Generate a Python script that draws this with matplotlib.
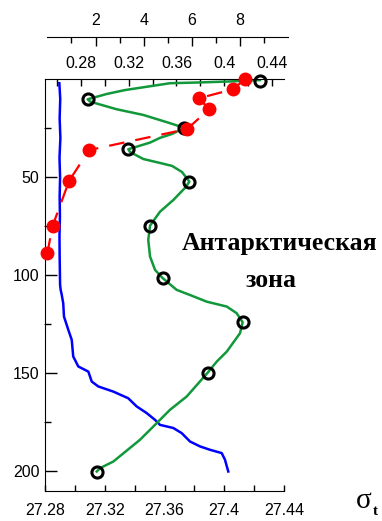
import matplotlib
matplotlib.use("Agg")
from matplotlib import pyplot as plt, rcParams
from matplotlib.ticker import FixedLocator

rcParams["font.family"] = "Liberation Sans"
rcParams["font.size"] = 11.5

# sigma-t profile (bottom axis)
sig_depth = [2, 10, 20, 30, 40, 50, 60, 70, 80, 90, 100, 105, 107.5, 110, 114.3, 121.1,
             127.9, 133, 141.5, 146.6, 149.2, 154.3, 156.8, 159.4, 162.8, 167, 170.4,
             173.8, 176.4, 178, 180.6, 184.9, 187.4, 189.1, 190.8, 194.2, 197, 200.2]
sig_val = [27.2896, 27.2902, 27.2898, 27.2903, 27.2897, 27.2901, 27.2898, 27.2900,
           27.2897, 27.2898, 27.2900, 27.2901, 27.2905, 27.2912, 27.2922, 27.2927,
           27.2956, 27.2979, 27.2989, 27.3023, 27.3090, 27.3113, 27.3157, 27.3257,
           27.3357, 27.3414, 27.3481, 27.3536, 27.3570, 27.3659, 27.3715, 27.3771,
           27.3838, 27.3904, 27.3983, 27.4005, 27.4015, 27.4027]

# green profile (inner top axis)
grn_depth = [0.4, 1.1, 1.6, 2.0, 5.5, 7.5, 10.2, 11.4, 15.3, 18.2, 22.4, 24.8, 27.9, 29.9,
             32.3, 34.4, 35.7, 37.1, 40.7, 42.7, 44.2, 47.3, 52.2, 54.9, 61.6, 67.6, 74.7,
             82.0, 90.5, 97.3, 101.5, 107.5, 110.1, 113.5, 116.0, 119.4, 124.0, 129.6,
             139.0, 144.1, 149.7, 161.9, 168.7, 175.5, 184.0, 195.1, 198.5, 200.2]
grn_val = [0.4299, 0.4048, 0.3797, 0.3546, 0.3169, 0.3016, 0.2857, 0.2877, 0.3100, 0.3323,
           0.3546, 0.3667, 0.3563, 0.3462, 0.3379, 0.3267, 0.3197, 0.3211, 0.3323, 0.3462,
           0.3563, 0.3646, 0.3708, 0.3680, 0.3574, 0.3462, 0.3379, 0.3364, 0.3379, 0.3421,
           0.3485, 0.3602, 0.3713, 0.3853, 0.4021, 0.4104, 0.4154, 0.4132, 0.4021, 0.3937,
           0.3862, 0.3686, 0.3546, 0.3435, 0.3295, 0.3072, 0.2960, 0.2933]
grn_pt_depth = [1, 10.2, 24.8, 35.7, 52.2, 74.7, 101.5, 124.0, 149.7, 200.2]
grn_pt_val = [0.4299, 0.2857, 0.3667, 0.3197, 0.3708, 0.3379, 0.3485, 0.4154, 0.3862, 0.2933]

# red profile (outer top axis)
red_depth = [0, 5.1, 9.7, 15.2, 25.4, 36.1, 51.7, 74.8, 88.8]
red_val = [8.19, 7.71, 6.28, 6.72, 5.80, 1.74, 0.91, 0.22, 0.0]

sig_ticks = [27.28, 27.32, 27.36, 27.40, 27.44]
sig_labels = ["27.28", "27.32", "27.36", "27.4", "27.44"]
grn_ticks = [0.28, 0.32, 0.36, 0.40, 0.44]
grn_labels = ["0.28", "0.32", "0.36", "0.4", "0.44"]
red_ticks = [2, 4, 6, 8]
depth_ticks = [50, 100, 150, 200]

fig = plt.figure(figsize=(3.82, 5.21), dpi=100)
W, H = 382.0, 521.0
rect = [45 / W, 30.3 / H, 239 / W, 411.4 / H]

ax = fig.add_axes(rect)
ax.set_xlim(27.28, 27.44)
ax.set_ylim(210, 0)
ax.plot(sig_val, sig_depth, color="#0000ff", lw=1.8)
for s in ["top", "right"]:
    ax.spines[s].set_visible(False)
ax.set_xticks(sig_ticks)
ax.set_xticklabels(sig_labels)
ax.xaxis.set_minor_locator(FixedLocator([27.30, 27.34, 27.38, 27.42]))
ax.set_yticks(depth_ticks)
ax.yaxis.set_minor_locator(FixedLocator([25, 75, 125, 175]))
ax.tick_params(axis="x", which="both", direction="in", length=4, width=1, pad=9)
ax.tick_params(axis="y", which="major", direction="in", length=8.5, width=1, pad=4)
ax.tick_params(axis="y", which="minor", direction="in", length=4.5, width=1)

# inner top axis
axg = ax.twiny()
axg.set_xlim(0.25, 0.45)
for s in ["left", "right", "bottom"]:
    axg.spines[s].set_visible(False)
axg.plot(grn_val, grn_depth, color="#11983a", lw=1.8)
axg.plot(grn_pt_val, grn_pt_depth, "o", mfc="none", mec="black", mew=2.2, ms=8, clip_on=False)
axg.set_xticks(grn_ticks)
axg.set_xticklabels(grn_labels)
axg.xaxis.set_minor_locator(FixedLocator([0.26, 0.30, 0.34, 0.38, 0.42]))
axg.tick_params(axis="x", which="both", direction="in", length=5, width=1, pad=6)

# outer top axis
rect2 = [47.3 / W, 30.3 / H, 241 / W, 411.4 / H]
axr = fig.add_axes(rect2, sharey=ax)
axr.patch.set_visible(False)
axr.set_xlim(0, 10)
for s in ["left", "right", "bottom"]:
    axr.spines[s].set_visible(False)
axr.spines["top"].set_position(("outward", 30.7))
axr.plot(red_val, red_depth, color="red", lw=1.6, ls=(0, (7, 5)),
         marker="o", ms=9, mfc="red", mec="red", clip_on=False)
axr.xaxis.set_ticks_position("top")
axr.set_xticks(red_ticks)
axr.xaxis.set_minor_locator(FixedLocator([1, 3, 5, 7, 9]))
axr.tick_params(axis="x", which="major", direction="in", length=6.5, width=1, pad=6)
axr.tick_params(axis="x", which="minor", direction="in", length=4.5, width=1)
axr.tick_params(axis="y", left=False, labelleft=False)

fig.text(280 / W, 1 - 250 / H, "Антарктическая", ha="center", va="baseline",
         family="Liberation Serif", weight="bold", fontsize=18.5)
fig.text(271 / W, 1 - 287 / H, "зона", ha="center", va="baseline",
         family="Liberation Serif", weight="bold", fontsize=18.5)
fig.text(356 / W, 1 - 508 / H, "σ", ha="left", va="baseline",
         family="Liberation Serif", fontsize=21)
fig.text(373 / W, 1 - 515 / H, "t", ha="left", va="baseline",
         family="Liberation Serif", weight="bold", fontsize=11)

fig.savefig("out.png", dpi=100)
